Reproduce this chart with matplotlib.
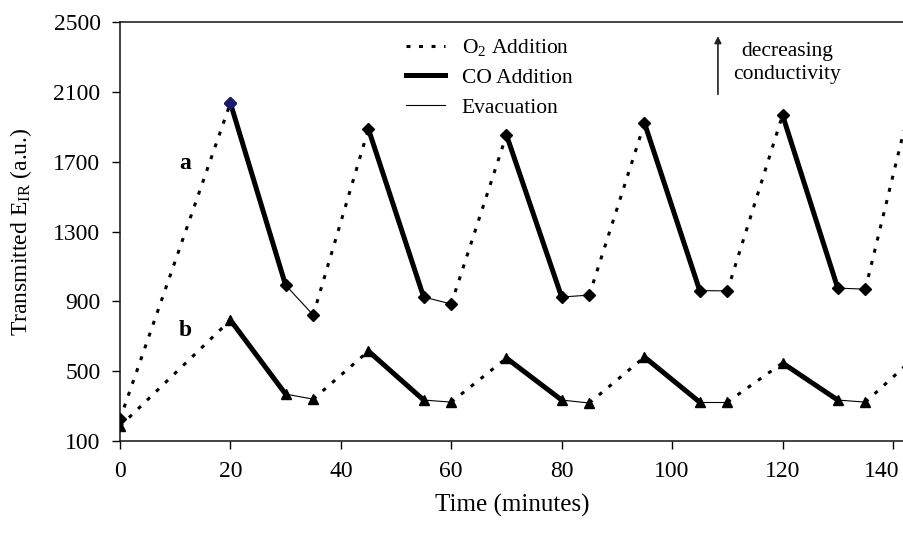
import numpy as np
import matplotlib
matplotlib.use("Agg")
import matplotlib.pyplot as plt
import matplotlib.transforms as mtransforms
from matplotlib.lines import Line2D

plt.rcParams['font.family'] = ['Liberation Serif', 'DejaVu Serif']
plt.rcParams['mathtext.fontset'] = 'custom'
plt.rcParams['mathtext.rm'] = 'Liberation Serif'
plt.rcParams['mathtext.it'] = 'Liberation Serif:italic'

# time of each measurement (minutes)
times = [0, 20, 30, 35, 45, 55, 60, 70, 80, 85, 95, 105, 110, 120, 130, 135, 145]
# curve a (diamonds) and curve b (triangles), transmitted E_IR
curveA = [225, 2036, 993, 822, 1887, 925, 885, 1853, 925, 936, 1921, 962, 960,
          1967, 976, 970, 2270]
curveB = [185, 793, 369, 340, 615, 335, 323, 575, 335, 318, 581, 323, 323,
          547, 335, 323, 610]
# gas treatment between two consecutive points
phases = ["O2", "CO", "Evac"] * 5 + ["O2"]

xTicks = [0, 20, 40, 60, 80, 100, 120, 140]
yTicks = [100, 500, 900, 1300, 1700, 2100, 2500]

styles = {
    "O2": dict(color="black", lw=2.2, linestyle=(0, (1.3, 2.8))),
    "CO": dict(color="black", lw=3.6, linestyle="-"),
    "Evac": dict(color="black", lw=0.8, linestyle="-"),
}

fig = plt.figure(figsize=(9.04, 5.34), dpi=100)
ax = fig.add_axes([0.1327, 0.174, 0.8673, 0.7848])

for values in (curveA, curveB):
    for i, phase in enumerate(phases):
        ax.plot(times[i:i + 2], values[i:i + 2], **styles[phase],
                solid_capstyle="butt", zorder=2)

# markers (last point lies outside the visible range)
ax.plot(times[:-1], curveA[:-1], "D", color="black", ms=6, zorder=3)
ax.plot(times[1], curveA[1], "D", color="#1a1a6e", ms=6, zorder=4)
ax.plot(times[:-1], curveB[:-1], "^", color="black", ms=7.5, zorder=3)

ax.text(11.8, 1692, "a", fontsize=17, fontweight="bold", ha="center", va="center")
ax.text(11.8, 736, "b", fontsize=17, fontweight="bold", ha="center", va="center")

# legend
handles = [
    Line2D([], [], **styles["O2"]),
    Line2D([], [], **styles["CO"]),
    Line2D([], [], **styles["Evac"]),
]
labels = [r"O$_2$ Addition", "CO Addition", "Evacuation"]
ax.legend(handles, labels, loc="upper left", bbox_to_anchor=(0.34, 1.01),
          frameon=False, fontsize=15.5, handlelength=1.8, handletextpad=0.8,
          labelspacing=0.45)

# conductivity arrow
ax.annotate("", xy=(108.3, 2435), xytext=(108.3, 2070),
            arrowprops=dict(arrowstyle="-|>", color="#222222", lw=1.2,
                            mutation_scale=10))
ax.text(120.8, 2265, "decreasing\nconductivity", fontsize=15.5,
        ha="center", va="center", linespacing=1.35)

ax.set_xlim(0, 142)
ax.set_ylim(100, 2500)
ax.set_xticks(xTicks)
ax.set_yticks(yTicks)
ax.tick_params(direction="out", length=6, width=1, labelsize=17, pad=8)
ax.tick_params(axis="x", pad=8)
ax.spines["right"].set_visible(False)
for s in ("left", "bottom", "top"):
    ax.spines[s].set_linewidth(1.2)
    ax.spines[s].set_color("#222222")

# keep the last tick label inside the figure
lastLabel = ax.get_xticklabels()[-1]
lastLabel.set_transform(lastLabel.get_transform() +
                        mtransforms.ScaledTranslation(-8 / 72, 0, fig.dpi_scale_trans))

ax.set_xlabel("Time (minutes)", fontsize=18, labelpad=9)
ax.set_ylabel(r"Transmitted $\mathrm{E}_{\mathrm{IR}}$ (a.u.)", fontsize=17)
ax.yaxis.set_label_coords(-0.11, 0.5)

fig.savefig("out.png", dpi=100)
